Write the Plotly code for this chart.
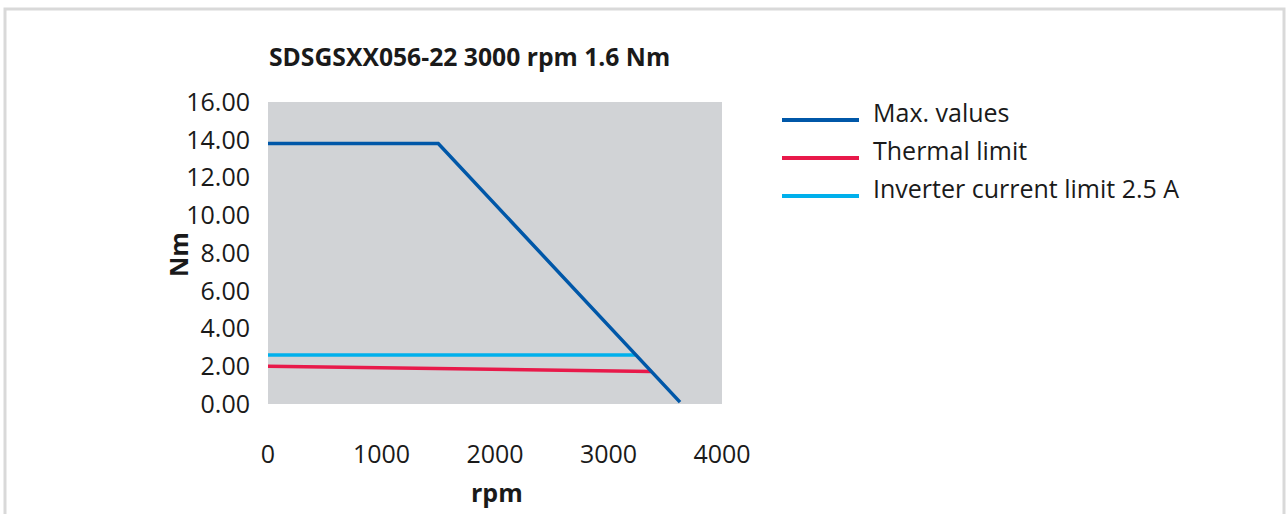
import plotly.graph_objects as go

title = "SDSGSXX056-22 3000 rpm 1.6 Nm"
x_label = "rpm"
y_label = "Nm"

series_names = ["Max. values", "Thermal limit", "Inverter current limit 2.5 A"]
series_colors = ["#0057a8", "#e8194a", "#00b0ec"]

max_rpm = [0, 1500, 3630]
max_nm = [13.8, 13.8, 0.1]

thermal_rpm = [0, 3380]
thermal_nm = [2.0, 1.72]

inverter_rpm = [0, 3240]
inverter_nm = [2.6, 2.6]

x_ticks = [0, 1000, 2000, 3000, 4000]
y_ticks = [0, 2, 4, 6, 8, 10, 12, 14, 16]

FONT = "Open Sans"
FS = 25
W, H = 1287, 514
L, R, T, B = 268, 722, 102, 404

fig = go.Figure()
data = [(max_rpm, max_nm), (thermal_rpm, thermal_nm), (inverter_rpm, inverter_nm)]
order = [1, 2, 0]
for i in order:
    xs, ys = data[i]
    fig.add_trace(go.Scatter(x=xs, y=ys, mode="lines", name=series_names[i],
                             line=dict(color=series_colors[i], width=3.5),
                             showlegend=False, hoverinfo="skip"))

def px_x(p):
    return (p - L) / (R - L)

def px_y(p):
    return (B - p) / (B - T)

shapes = [
    dict(type="rect", xref="paper", yref="paper",
         x0=px_x(5), x1=px_x(1284), y0=px_y(540), y1=px_y(9),
         line=dict(color="#d9d9d9", width=3), fillcolor="rgba(0,0,0,0)", layer="below"),
]
annotations = [
    dict(text="<b>" + title + "</b>", xref="paper", yref="paper",
         x=px_x(267), y=px_y(56), xanchor="left", yanchor="middle",
         showarrow=False, font=dict(family=FONT, size=24.7, color="#1a1a1a")),
    dict(text="<b>" + x_label + "</b>", xref="paper", yref="paper",
         x=px_x(497), y=px_y(492), xanchor="center", yanchor="middle",
         showarrow=False, font=dict(family=FONT, size=FS, color="#1a1a1a")),
    dict(text="<b>" + y_label + "</b>", xref="paper", yref="paper",
         x=px_x(178), y=px_y(255), xanchor="center", yanchor="middle", textangle=-90,
         showarrow=False, font=dict(family=FONT, size=FS, color="#1a1a1a")),
]
leg_line_y = [120, 158, 196]
leg_text_y = [112, 150, 188]
for k in range(3):
    shapes.append(dict(type="line", xref="paper", yref="paper",
                       x0=px_x(782), x1=px_x(859), y0=px_y(leg_line_y[k]), y1=px_y(leg_line_y[k]),
                       line=dict(color=series_colors[k], width=4)))
    annotations.append(dict(text=series_names[k], xref="paper", yref="paper",
                            x=px_x(871), y=px_y(leg_text_y[k]), xanchor="left", yanchor="middle",
                            showarrow=False, font=dict(family=FONT, size=FS, color="#1a1a1a")))

fig.update_layout(
    width=W, height=H,
    margin=dict(l=L, r=W - R, t=T, b=H - B, pad=0),
    paper_bgcolor="white", plot_bgcolor="#d1d3d6",
    font=dict(family=FONT, size=FS, color="#1a1a1a"),
    shapes=shapes, annotations=annotations,
    showlegend=False,
)
fig.update_xaxes(range=[0, 4000], tickvals=x_ticks, showgrid=False, zeroline=False,
                 showline=False, ticks="", ticklabelstandoff=33,
                 tickfont=dict(family=FONT, size=FS, color="#1a1a1a"), fixedrange=True)
fig.update_yaxes(range=[0, 16], tickvals=y_ticks, tickformat=".2f", showgrid=False,
                 zeroline=False, showline=False, ticks="", ticklabelstandoff=17,
                 tickfont=dict(family=FONT, size=FS, color="#1a1a1a"), fixedrange=True)

fig.write_html("out.html", config={"displayModeBar": False},
               post_script="document.body.style.margin='0';document.body.style.overflow='hidden';")
